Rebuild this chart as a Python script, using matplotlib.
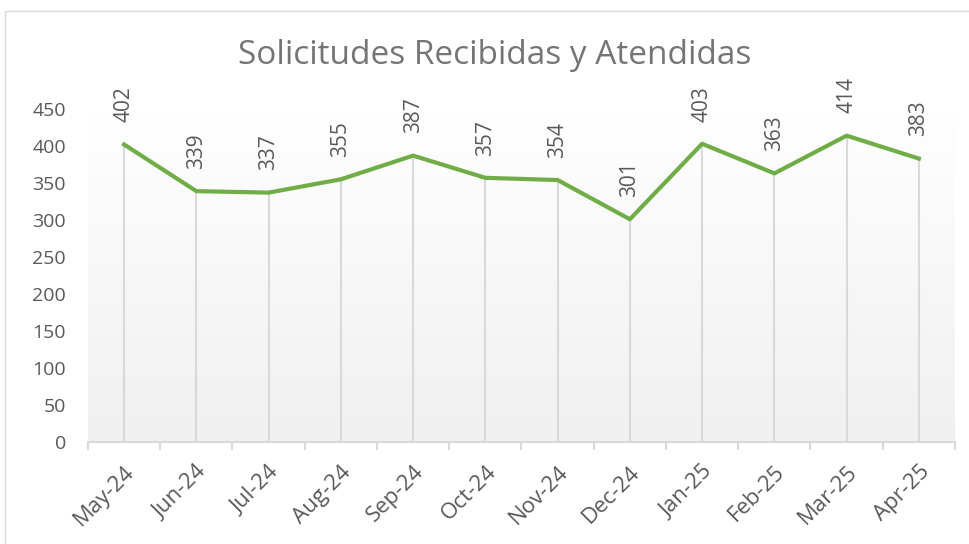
import numpy as np
import matplotlib.pyplot as plt
from matplotlib.colors import LinearSegmentedColormap
from matplotlib.patches import Rectangle

# Datos del gráfico
meses = ["May-24", "Jun-24", "Jul-24", "Aug-24", "Sep-24", "Oct-24",
         "Nov-24", "Dec-24", "Jan-25", "Feb-25", "Mar-25", "Apr-25"]
solicitudes = [402, 339, 337, 355, 387, 357, 354, 301, 403, 363, 414, 383]
y_ticks = [0, 50, 100, 150, 200, 250, 300, 350, 400, 450]

plt.rcParams['font.family'] = ['Open Sans', 'DejaVu Sans']
gris_texto = "#595959"
verde = "#70AD47"

fig = plt.figure(figsize=(9.7, 5.44), dpi=100)
W, H = 970, 544

# Borde del área del gráfico (estilo Excel)
fig.patches.append(Rectangle((5 / W, -0.1), 1.1, 1 - 11 / H + 0.1,
                             transform=fig.transFigure, fill=False,
                             edgecolor="#D9D9D9", linewidth=1.0))

ax = fig.add_axes([88 / W, 1 - 442 / H, (955 - 88) / W, (442 - 109) / H])
x = np.arange(len(meses))
ax.set_xlim(-0.5, len(meses) - 0.5)
ax.set_ylim(0, 450)

# Fondo con degradado (blanco arriba, gris claro abajo)
grad = np.linspace(0.0, 1.0, 256).reshape(-1, 1)
cmap = LinearSegmentedColormap.from_list("g", ["#F0F0F0", "#FFFFFF"])
ax.imshow(grad, extent=[-0.5, len(meses) - 0.5, 0, 450], aspect='auto',
          cmap=cmap, origin='lower', zorder=0)

# Líneas de proyección
ax.vlines(x, 0, solicitudes, color="#D9D9D9", linewidth=1.5, zorder=1)
ax.plot(x, solicitudes, color=verde, linewidth=3, zorder=3,
        solid_joinstyle='round')

for xi, v in zip(x, solicitudes):
    ax.annotate(str(v), (xi, v), xytext=(0, 16), textcoords='offset points',
                rotation=90, ha='center', va='bottom', fontsize=15,
                color=gris_texto, annotation_clip=False)

ax.set_yticks(y_ticks)
ax.set_yticklabels([str(t) for t in y_ticks], fontsize=14, color=gris_texto)
ax.tick_params(axis='y', length=0, pad=16)

ax.set_xticks(x)
ax.set_xticklabels(meses, rotation=45, ha='right', rotation_mode='anchor',
                   fontsize=16, color=gris_texto)
ax.tick_params(axis='x', length=0, pad=14)
ax.set_xticks(np.arange(-0.5, len(meses)), minor=True)
ax.tick_params(axis='x', which='minor', length=6, color="#D9D9D9", width=1.5)

for s in ['top', 'right', 'left']:
    ax.spines[s].set_visible(False)
ax.spines['bottom'].set_color("#D9D9D9")
ax.spines['bottom'].set_linewidth(1.5)

fig.text(495 / W, 1 - 55 / H, "Solicitudes Recibidas y Atendidas",
         ha='center', va='center', fontsize=24, color="#757575")

fig.savefig("out.png", dpi=100)
